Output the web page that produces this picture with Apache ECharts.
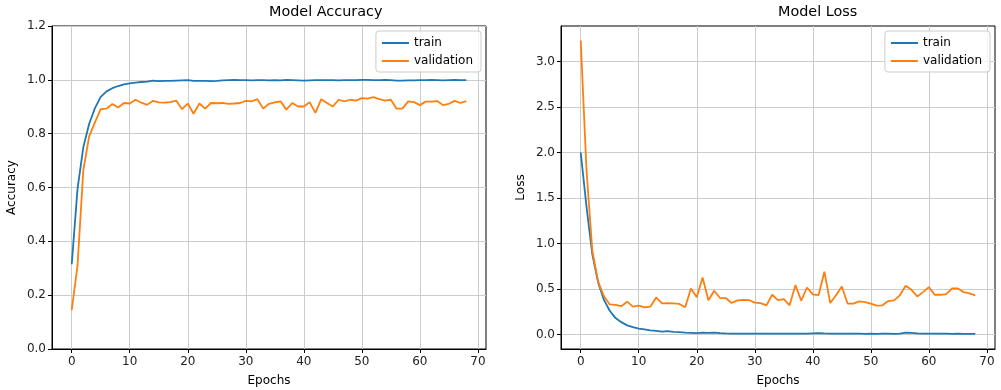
<!DOCTYPE html>
<html>
<head>
<meta charset="utf-8">
<script src="https://cdn.jsdelivr.net/npm/echarts@6/dist/echarts.min.js"></script>
<style>
html,body{margin:0;padding:0;background:#fff;}
#chart{width:1001px;height:390px;}
</style>
</head>
<body>
<div id="chart"></div>
<script>
// epochs on the x axis
var epochs = [0,1,2,3,4,5,6,7,8,9,10,11,12,13,14,15,16,17,18,19,20,21,22,23,24,25,26,27,28,29,
	30,31,32,33,34,35,36,37,38,39,40,41,42,43,44,45,46,47,48,49,50,51,52,53,54,55,56,57,58,59,
	60,61,62,63,64,65,66,67,68];

// Model Accuracy
var trainAcc = [0.315,0.595,0.75,0.836,0.895,0.937,0.957,0.969,0.977,0.983,
	0.987,0.990,0.992,0.993,0.997,0.995,0.996,0.996,0.997,0.998,
	0.999,0.996,0.996,0.996,0.995,0.996,0.998,0.999,1.0,0.999,
	0.999,0.998,0.999,0.999,0.998,0.999,0.998,1.0,0.999,0.998,
	0.997,0.998,0.999,0.999,0.999,0.999,0.998,0.999,0.999,0.999,
	1.0,1.0,0.999,0.999,1.0,0.999,0.997,0.997,0.998,0.998,
	0.999,0.999,1.0,0.999,0.998,0.999,1.0,0.999,0.999];
var valAcc = [0.144,0.31,0.665,0.79,0.842,0.891,0.893,0.91,0.897,0.914,
	0.912,0.926,0.915,0.907,0.922,0.916,0.915,0.917,0.923,0.891,
	0.912,0.874,0.912,0.893,0.914,0.913,0.914,0.911,0.912,0.914,
	0.922,0.920,0.928,0.893,0.911,0.916,0.920,0.889,0.914,0.901,
	0.901,0.917,0.877,0.928,0.914,0.901,0.926,0.920,0.926,0.923,
	0.932,0.930,0.936,0.928,0.923,0.926,0.893,0.893,0.920,0.917,
	0.906,0.919,0.919,0.921,0.906,0.911,0.922,0.914,0.921];

// Model Loss
var trainLoss = [2.0,1.40,0.88,0.57,0.38,0.26,0.18,0.135,0.10,0.08,
	0.065,0.055,0.045,0.04,0.03,0.036,0.028,0.025,0.02,0.018,
	0.015,0.02,0.018,0.02,0.015,0.012,0.01,0.01,0.009,0.01,
	0.009,0.008,0.009,0.01,0.008,0.008,0.009,0.008,0.008,0.009,
	0.012,0.015,0.012,0.01,0.009,0.008,0.009,0.008,0.008,0.007,
	0.008,0.007,0.008,0.008,0.007,0.009,0.02,0.018,0.012,0.01,
	0.009,0.008,0.009,0.008,0.007,0.008,0.007,0.007,0.006];
var valLoss = [3.23,1.8,0.92,0.58,0.42,0.33,0.325,0.31,0.36,0.305,
	0.316,0.298,0.305,0.407,0.342,0.345,0.342,0.335,0.298,0.505,
	0.41,0.625,0.375,0.48,0.40,0.40,0.345,0.375,0.38,0.378,
	0.349,0.345,0.32,0.436,0.378,0.389,0.32,0.542,0.371,0.516,
	0.44,0.433,0.69,0.345,0.43,0.527,0.338,0.338,0.364,0.356,
	0.338,0.316,0.32,0.367,0.375,0.43,0.535,0.49,0.418,0.465,
	0.52,0.436,0.436,0.444,0.505,0.505,0.465,0.451,0.429];

// tick labels
var xTicks = [0,10,20,30,40,50,60,70];
var accTicks = [0,0.2,0.4,0.6,0.8,1.0,1.2];
var lossTicks = [0,0.5,1.0,1.5,2.0,2.5,3.0];

var FONT = 'DejaVu Sans';
var BLUE = '#1f77b4', ORANGE = '#ff7f0e';

function pairs(vals){
	var out = [];
	for(var i=0;i<vals.length;i++){ out.push([epochs[i], vals[i]]); }
	return out;
}

function xAxisCfg(idx){
	return {
		type:'value', gridIndex:idx, min:-3.4, max:71.4,
		name:'Epochs', nameLocation:'middle', nameGap:26,
		nameTextStyle:{fontFamily:FONT,fontSize:12,color:'#000'},
		axisLine:{show:true,onZero:false,lineStyle:{color:'#000',width:1}},
		axisTick:{show:true,inside:false,length:4,customValues:xTicks,lineStyle:{color:'#000'}},
		axisLabel:{customValues:xTicks,fontFamily:FONT,fontSize:12,color:'#222',margin:7},
		splitLine:{show:true,lineStyle:{color:'#cccccc',width:1}}
	};
}
function yAxisCfg(idx,name,min,max,ticks){
	return {
		type:'value', gridIndex:idx, min:min, max:max,
		name:name, nameLocation:'middle', nameGap:34, nameRotate:90,
		nameTextStyle:{fontFamily:FONT,fontSize:12,color:'#000'},
		axisLine:{show:true,onZero:false,lineStyle:{color:'#000',width:1}},
		axisTick:{show:true,inside:false,length:4,customValues:ticks,lineStyle:{color:'#000'}},
		axisLabel:{customValues:ticks,fontFamily:FONT,fontSize:12,color:'#222',margin:6,
			formatter:function(v){return v.toFixed(1);}},
		splitLine:{show:true,lineStyle:{color:'#cccccc',width:1}}
	};
}
function legendCfg(right){
	return {
		orient:'vertical', right:right, top:31,
		data:['train','validation'],
		icon:'rect', itemWidth:27, itemHeight:2, itemGap:6,
		padding:[6,8,5,6],
		backgroundColor:'rgba(255,255,255,0.8)',
		borderColor:'#cccccc', borderWidth:1, borderRadius:3,
		textStyle:{fontFamily:FONT,fontSize:12,color:'#000'},
		selectedMode:false
	};
}
function lineSeries(name,color,vals,idx){
	return {
		name:name, type:'line', xAxisIndex:idx, yAxisIndex:idx,
		data:pairs(vals), showSymbol:false, symbol:'none',
		lineStyle:{color:color,width:1.8}, itemStyle:{color:color}
	};
}

var chart = echarts.init(document.getElementById('chart'), null, {renderer:'canvas'});
var option = {
	animation:false,
	backgroundColor:'#fff',
	graphic:[
		{type:'text', left:269, top:5, style:{text:'Model Accuracy',fontFamily:FONT,fontSize:14.4,fill:'#000',textAlign:'center'}},
		{type:'text', left:778, top:5, style:{text:'Model Loss',fontFamily:FONT,fontSize:14.4,fill:'#000',textAlign:'center'}}
	],
	grid:[
		{left:52, top:26, width:434, height:323, show:true, borderColor:'#000', borderWidth:1, backgroundColor:'transparent', outerBoundsMode:'none', containLabel:false},
		{left:561, top:26, width:434, height:323, show:true, borderColor:'#000', borderWidth:1, backgroundColor:'transparent', outerBoundsMode:'none', containLabel:false}
	],
	legend:[legendCfg(520), legendCfg(11)],
	xAxis:[xAxisCfg(0), xAxisCfg(1)],
	yAxis:[
		yAxisCfg(0,'Accuracy',0,1.2,accTicks),
		yAxisCfg(1,'Loss',-0.16,3.39,lossTicks)
	],
	series:[
		lineSeries('train',BLUE,trainAcc,0),
		lineSeries('validation',ORANGE,valAcc,0),
		lineSeries('train',BLUE,trainLoss,1),
		lineSeries('validation',ORANGE,valLoss,1)
	]
};
chart.setOption(option);
</script>
</body>
</html>
